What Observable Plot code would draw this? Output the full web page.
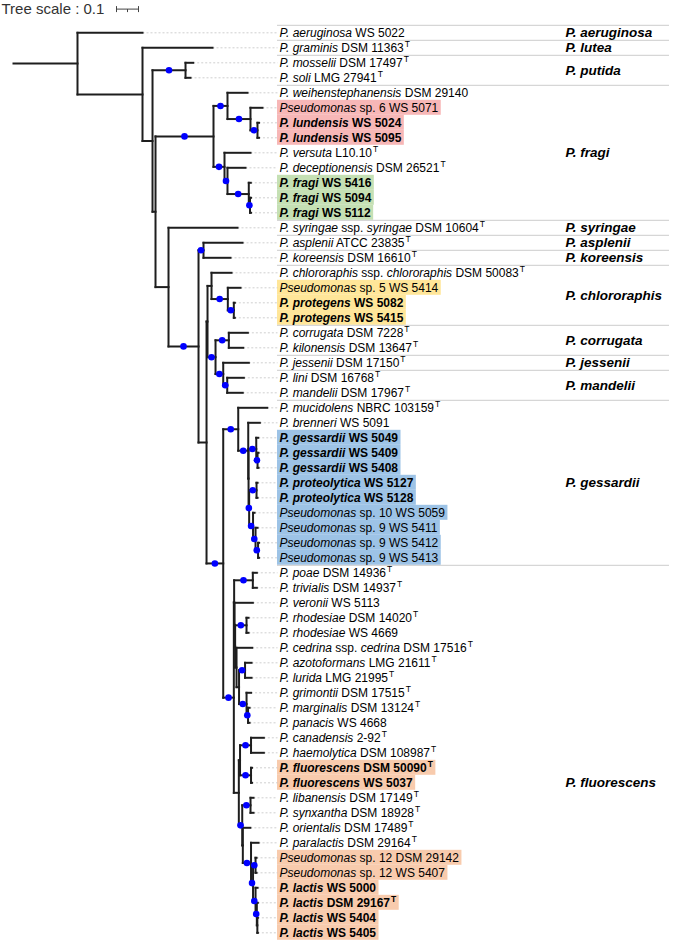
<!DOCTYPE html>
<html><head><meta charset="utf-8">
<script src="https://cdn.jsdelivr.net/npm/d3@7"></script>
<script src="https://cdn.jsdelivr.net/npm/@observablehq/plot@0.6"></script>
<style>
html,body{margin:0;padding:0;background:#fff;}
#chart svg{display:block;}
</style></head><body><div id="chart"></div>
<script>
// ---------------- DATA ----------------
// Tree (Newick, branch lengths in substitutions/site; "*" = supported node, drawn as blue dot)
const rootStem = 0.2909;
const cladePutida = "(3:0.035,4:0.0227)*:0.15";
const cladeFragiUpper = "(5:0.0909,(6:0.0545,(7:0.0068,8:0.0068)*:0.0318)*:0.1045)*:0.0636";
const cladeFragiLower = "(9:0.1182,(10:0.0818,(11:0.0091,(12:0.0045,13:0.0045)*:0.0055)*:0.0968)*:0.0136)*:0.05";
const cladeAspKor = "(15:0.1773,16:0.1227)*:0.0227";
const cladeChloro = "(17:0.0909,(18:0.0577,(19:0.0045,20:0.0045)*:0.0273)*:0.0741):0.0182";
const cladeCorrMand = "((21:0.0864,22:0.0655)*:0.0605,(23:0.1164,(24:0.0755,25:0.0705)*:0.0182)*:0.035)*:0.0364";
const cladeGessTrio = "(28:0.0091,(29:0.0045,30:0.0045)*:0.0059)*:0.035";
const cladeProtSp = "((31:0.0045,32:0.0045)*:0.0336,(33:0.0068,(34:0.0091,(35:0.0045,36:0.0045)*:0.0114)*:0.0114)*:0.0177)*:0.0027";
const cladeFluoUpper5 = "((43:0.0295,44:0.0295)*:0.0273,(45:0.0205,(46:0.0068,47:0.0068)*:0.0068)*:0.0341):0.0114";
const cladeFluoR1 = "((48:0.0582,49:0.0582)*:0.05,(50:0.0045,51:0.0045)*:0.05):0.0055";
const cladeLactis = "(58:0.0091,(59:0.0045,(60:0.0023,61:0.0023):0.0023)*:0.0059)*:0.0114";

const cladeFragi = `(${cladeFragiUpper},${cladeFragiLower})*:0.2636`;
const cladeGess = `(26:0.1318,(27:0.0527,(${cladeGessTrio},${cladeProtSp}):0.0014)*:0.0455)*:0.0682`;
const cladeFluoQ = `((37:0.0182,38:0.0182)*:0.085,(39:0.0832,((40:0.0091,41:0.0091)*:0.0518,(42:0.0714,${cladeFluoUpper5}):0.0064):0.0027):0.0018):0.0014`;
const cladeFluoR2 = `((52:0.0136,53:0.0136)*:0.0377,(54:0.0341,(55:0.0341,((56:0.0045,57:0.0045)*:0.0114,${cladeLactis})*:0.0091)*:0.0373):0.0027)*:0.0155`;
const cladeFluo = `(${cladeFluoQ},(${cladeFluoR1},${cladeFluoR2}):0.0227)*:0.0482`;
const cladeE = `((${cladeChloro},${cladeCorrMand}):0.0045,(${cladeGess},${cladeFluo})*:0.0759):0.0364`;
const cladeC = `(14:0.3136,(${cladeAspKor},${cladeE})*:0.1364):0.0591`;
const treeNewick = `(1:0.2955,(2:0.3182,(${cladePutida},(${cladeFragi},${cladeC}):0.0136):0.0455):0.2955);`;

// Leaf labels (leaf number = position); "*" = bold, _x_ = italic, ^T = type strain
const leafLabels = [
"_P. aeruginosa_ WS 5022","_P. graminis_ DSM 11363^T","_P. mosselii_ DSM 17497^T","_P. soli_ LMG 27941^T",
"_P. weihenstephanensis_ DSM 29140","_Pseudomonas_ sp. 6 WS 5071","*_P. lundensis_ WS 5024","*_P. lundensis_ WS 5095",
"_P. versuta_ L10.10^T","_P. deceptionensis_ DSM 26521^T","*_P. fragi_ WS 5416","*_P. fragi_ WS 5094","*_P. fragi_ WS 5112",
"_P. syringae_ ssp. _syringae_ DSM 10604^T","_P. asplenii_ ATCC 23835^T","_P. koreensis_ DSM 16610^T",
"_P. chlororaphis_ ssp. _chlororaphis_ DSM 50083^T","_Pseudomonas_ sp. 5 WS 5414","*_P. protegens_ WS 5082","*_P. protegens_ WS 5415",
"_P. corrugata_ DSM 7228^T","_P. kilonensis_ DSM 13647^T","_P. jessenii_ DSM 17150^T","_P. lini_ DSM 16768^T","_P. mandelii_ DSM 17967^T",
"_P. mucidolens_ NBRC 103159^T","_P. brenneri_ WS 5091","*_P. gessardii_ WS 5049","*_P. gessardii_ WS 5409","*_P. gessardii_ WS 5408",
"*_P. proteolytica_ WS 5127","*_P. proteolytica_ WS 5128","_Pseudomonas_ sp. 10 WS 5059","_Pseudomonas_ sp. 9 WS 5411",
"_Pseudomonas_ sp. 9 WS 5412","_Pseudomonas_ sp. 9 WS 5413",
"_P. poae_ DSM 14936^T","_P. trivialis_ DSM 14937^T","_P. veronii_ WS 5113","_P. rhodesiae_ DSM 14020^T","_P. rhodesiae_ WS 4669",
"_P. cedrina_ ssp. _cedrina_ DSM 17516^T","_P. azotoformans_ LMG 21611^T","_P. lurida_ LMG 21995^T","_P. grimontii_ DSM 17515^T",
"_P. marginalis_ DSM 13124^T","_P. panacis_ WS 4668","_P. canadensis_ 2-92^T","_P. haemolytica_ DSM 108987^T",
"*_P. fluorescens_ DSM 50090^T","*_P. fluorescens_ WS 5037","_P. libanensis_ DSM 17149^T","_P. synxantha_ DSM 18928^T",
"_P. orientalis_ DSM 17489^T","_P. paralactis_ DSM 29164^T","_Pseudomonas_ sp. 12 DSM 29142","_Pseudomonas_ sp. 12 WS 5407",
"*_P. lactis_ WS 5000","*_P. lactis_ DSM 29167^T","*_P. lactis_ WS 5404","*_P. lactis_ WS 5405"
];

// Highlighted label backgrounds: colour, first leaf, last leaf
const highlightColor = ["#f7b7b7","#c5e0b4","#ffe699","#9dc3e6","#f8cbad","#f8cbad"];
const highlightFirst = [6, 11, 18, 28, 50, 56];
const highlightLast  = [8, 13, 20, 36, 51, 61];

// Species groups on the right
const groupNames = ["P. aeruginosa","P. lutea","P. putida","P. fragi","P. syringae","P. asplenii","P. koreensis",
                    "P. chlororaphis","P. corrugata","P. jessenii","P. mandelii","P. gessardii","P. fluorescens"];
const groupFirst = [1, 2, 3, 5, 14, 15, 16, 17, 21, 23, 24, 26, 37];
const groupLast  = [1, 2, 4, 13, 14, 15, 16, 20, 22, 23, 25, 36, 61];
const groupLabelAt = [1, 2, 3.5, 9, 14, 15, 16, 18.5, 21.5, 23, 24.5, 31, 51];

const scaleLength = 0.1;
const scaleTitle = "Tree scale : 0.1";

// ---------------- LAYOUT (px) ----------------
const LY = {stemX: 13, unitPx: 220, firstRowY: 32.3, rowPx: 15,
  boxX: 277, textX: 279, groupX: 565, sepEndX: 669, leafFont: 12, groupFont: 13.5, supFont: 8.5,
  titleX: 1, titleY: 8.6, barX: 116, barY: 8.6};
const FONT = '"Liberation Sans", Arial, Helvetica, sans-serif';
const ux = px => (px - LY.stemX) / LY.unitPx;
const ry = px => (px - LY.firstRowY) / LY.rowPx;

// ---------------- TREE ----------------
function parseNewick(s) {
  let i = 0;
  function node() {
    const n = {children: null, name: "", length: 0};
    if (s[i] === "(") {
      i++; n.children = [];
      n.children.push(node());
      while (s[i] === ",") { i++; n.children.push(node()); }
      i++;
    }
    let name = "";
    while (i < s.length && !",():;".includes(s[i])) name += s[i++];
    n.name = name;
    if (s[i] === ":") { i++; let num = ""; while (i < s.length && !",();".includes(s[i])) num += s[i++]; n.length = +num; }
    return n;
  }
  return node();
}
const root = parseNewick(treeNewick);
let leafCount = 0;
const tips = [], segs = [], dots = [];
(function layout(n, parentDepth) {
  n.depth = parentDepth + n.length;
  if (!n.children) { n.y = leafCount++; tips.push(n); }
  else {
    n.children.forEach(c => layout(c, n.depth));
    n.y = (n.children[0].y + n.children[n.children.length - 1].y) / 2;
  }
})(root, rootStem);
(function edges(n, p) {
  if (p) {
    segs.push({x1: p.depth, x2: n.depth, y1: n.y, y2: n.y});
    if (n.name === "*") dots.push({x: (p.depth + n.depth) / 2, y: n.y});
  } else {
    segs.push({x1: 0, x2: n.depth, y1: n.y, y2: n.y});
  }
  if (n.children) {
    segs.push({x1: n.depth, x2: n.depth, y1: n.children[0].y, y2: n.children[n.children.length - 1].y});
    n.children.forEach(c => edges(c, n));
  }
})(root, null);

// ---------------- LABEL PARTS ----------------
function parseLabel(label) {
  const bold = label.startsWith("*");
  if (bold) label = label.slice(1);
  const parts = [];
  label.split("_").forEach((seg, k) => {
    const italic = k % 2 === 1;
    const sp = seg.split("^");
    if (sp[0]) parts.push({t: sp[0], italic, sup: false});
    if (sp.length > 1) parts.push({t: sp[1], italic, sup: true});
  });
  return {bold, parts, plain: parts.map(p => p.t).join("")};
}
const ctx = document.createElement("canvas").getContext("2d");
function textWidth(info) {
  let w = 0;
  info.parts.forEach(p => {
    const size = p.sup ? LY.supFont : LY.leafFont;
    ctx.font = `${p.italic ? "italic " : ""}${info.bold ? "bold " : ""}${size}px ${FONT}`;
    w += ctx.measureText(p.t).width + (p.sup ? 1 : 0);
  });
  return w;
}
tips.forEach(t => { t.info = parseLabel(leafLabels[+t.name - 1]); });

const boxes = [];
highlightColor.forEach((c, k) => {
  for (let leaf = highlightFirst[k]; leaf <= highlightLast[k]; leaf++) {
    const t = tips.find(d => +d.name === leaf);
    const w = textWidth(t.info);
    boxes.push({x1: ux(LY.boxX), x2: ux(LY.textX + w + 3), y1: t.y - 0.5, y2: t.y + 0.5, fill: c});
  }
});
const separators = groupFirst.map(f => f - 1.5);
const groups = groupNames.map((g, k) => ({name: g, y: groupLabelAt[k] - 1}));

// ---------------- PLOT ----------------
const lineY = ry(LY.barY);
const svg = Plot.plot({
  width: 685, height: 940, margin: 0,
  x: {domain: [0, 1], range: [LY.stemX, LY.stemX + LY.unitPx], axis: null},
  y: {domain: [0, 60], range: [LY.firstRowY, LY.firstRowY + 60 * LY.rowPx], axis: null},
  color: {type: "identity"},
  style: {fontFamily: FONT, background: "white"},
  marks: [
    Plot.rect(boxes, {x1: "x1", x2: "x2", y1: "y1", y2: "y2", fill: "fill"}),
    Plot.ruleY(separators, {y: d => d, x1: () => ux(LY.boxX), x2: () => ux(LY.sepEndX), stroke: "#cccccc", strokeWidth: 1}),
    Plot.link(tips, {x1: d => d.depth, x2: () => ux(LY.boxX), y1: "y", y2: "y", stroke: "#c4c4c4", strokeWidth: 0.8, strokeDasharray: "2,2"}),
    Plot.link(segs, {x1: "x1", x2: "x2", y1: "y1", y2: "y2", stroke: "#1e1e1e", strokeWidth: 2, strokeLinecap: "square"}),
    Plot.dot(dots, {x: "x", y: "y", r: 3.3, fill: "#0000ff"}),
    Plot.text(tips, {x: () => ux(LY.textX), y: "y", text: d => d.info.plain, textAnchor: "start", fontSize: LY.leafFont, fill: "#000", ariaLabel: "leaf-labels"}),
    Plot.text(groups, {x: () => ux(LY.groupX), y: "y", text: "name", textAnchor: "start", fontSize: LY.groupFont, fontWeight: "bold", fontStyle: "italic", fill: "#000"}),
    Plot.text([scaleTitle], {x: () => ux(LY.titleX), y: () => ry(LY.titleY), text: d => d, textAnchor: "start", fontSize: 15, fill: "#333"}),
    // scale bar
    Plot.link([0], {x1: () => ux(LY.barX), x2: () => ux(LY.barX) + scaleLength, y1: () => lineY, y2: () => lineY, stroke: "#444", strokeWidth: 1}),
    Plot.link([0, scaleLength], {x1: d => ux(LY.barX) + d, x2: d => ux(LY.barX) + d, y1: () => lineY - 0.2, y2: () => lineY + 0.2, stroke: "#444", strokeWidth: 1}),
    Plot.link([scaleLength / 2], {x1: d => ux(LY.barX) + d, x2: d => ux(LY.barX) + d, y1: () => lineY, y2: () => lineY + 0.2, stroke: "#444", strokeWidth: 1})
  ]
});

// rich text (italic / bold / superscript) for leaf labels
let g = svg.querySelector('g[aria-label="leaf-labels"]');
if (!g) g = svg.querySelectorAll('g[aria-label="text"]')[0];
const NS = "http://www.w3.org/2000/svg";
g.querySelectorAll("text").forEach((el, i) => {
  const info = tips[i].info;
  el.textContent = "";
  el.style.whiteSpace = "pre";
  info.parts.forEach(p => {
    const ts = document.createElementNS(NS, "tspan");
    ts.textContent = p.t;
    if (p.italic) ts.setAttribute("font-style", "italic");
    if (info.bold) ts.setAttribute("font-weight", "bold");
    if (p.sup) { ts.setAttribute("font-size", LY.supFont); ts.setAttribute("dy", "-4.5"); ts.setAttribute("dx", "1"); }
    el.appendChild(ts);
  });
});
document.getElementById("chart").appendChild(svg);
</script></body></html>
